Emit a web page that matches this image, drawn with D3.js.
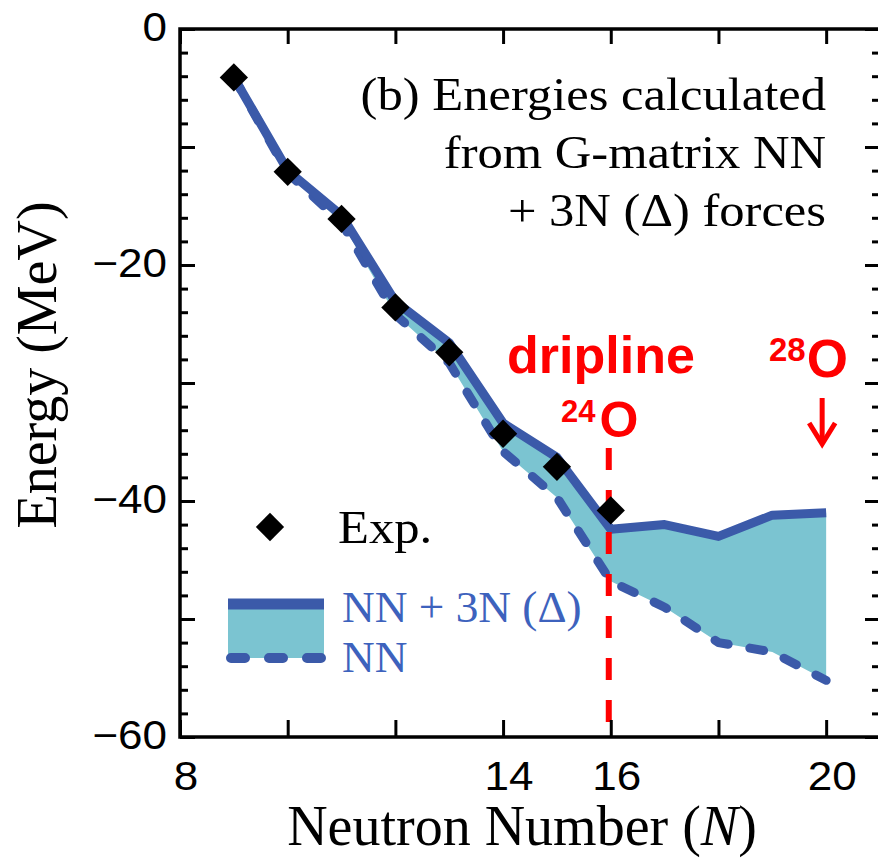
<!DOCTYPE html>
<html>
<head>
<meta charset="utf-8">
<script src="https://cdn.jsdelivr.net/npm/d3@7"></script>
<style>
  html, body { margin: 0; padding: 0; background: #fff; }
  svg { display: block; }
</style>
</head>
<body>
<svg id="chart" width="878" height="858"></svg>
<script>
// ---------------- data ----------------
const expN = [9, 10, 11, 12, 13, 14, 15, 16];
const expE = [-4.1, -12.1, -16.1, -23.6, -27.4, -34.3, -37.1, -40.8];

const calcN = [9, 10, 11, 12, 13, 14, 15, 16, 17, 18, 19, 20];
const nn3nE = [-4.1, -12.0, -15.8, -23.1, -26.6, -33.4, -36.3, -42.4, -42.0, -43.0, -41.2, -41.0];
const nnE   = [-4.1, -12.2, -16.4, -24.2, -28.3, -35.8, -39.7, -46.8, -49.0, -52.0, -52.8, -55.2];

const xTickValues = [8, 10, 12, 14, 16, 18, 20];
const xTickLabels = ["8", "14", "16", "20"];
const yMajorTicks = [0, -10, -20, -30, -40, -50, -60];
const yMinorTicks = d3.range(-58, 0, 2).filter(v => v % 10 !== 0);
const yTickLabels = ["0", "\u221220", "\u221240", "\u221260"];

const annotationLines = ["(b) Energies calculated", "from G-matrix NN", "+ 3N (\u0394) forces"];
const legendLabels = ["Exp.", "NN + 3N (\u0394)", "NN"];
const xTitle = "Neutron Number (";
const xTitleItalic = "N";
const yTitle = "Energy (MeV)";
const driplineN = 16;
const driplineRange = [-35.5, -58.8];
const o28N = 20;

// ---------------- layout ----------------
const svg = d3.select("#chart");
const x = d3.scaleLinear().domain([8, 21]).range([180, 880]);
const y = d3.scaleLinear().domain([-60, 0]).range([737, 29]);

const lineBlue = "#3b5aa9";
const fillTeal = "#7bc4d1";
const textBlue = "#3d62bd";
const red = "#ff0000";
const serif = "'Liberation Serif', 'Times New Roman', serif";
const sans = "'Liberation Sans', Arial, Helvetica, sans-serif";

const calc = calcN.map((n, i) => ({ n, a: nn3nE[i], b: nnE[i] }));
const exp = expN.map((n, i) => ({ n, e: expE[i] }));

// band
svg.append("path")
  .datum(calc)
  .attr("fill", fillTeal)
  .attr("d", d3.area().x(d => x(d.n)).y0(d => y(d.b)).y1(d => y(d.a)));

// dashed NN
svg.append("path")
  .datum(calc)
  .attr("fill", "none")
  .attr("stroke", lineBlue)
  .attr("stroke-width", 9)
  .attr("stroke-dasharray", "14,22")
  .attr("stroke-linecap", "round")
  .attr("stroke-linejoin", "round")
  .attr("d", d3.line().x(d => x(d.n)).y(d => y(d.b)));

// solid NN+3N
svg.append("path")
  .datum(calc)
  .attr("fill", "none")
  .attr("stroke", lineBlue)
  .attr("stroke-width", 9)
  .attr("stroke-linejoin", "round")
  .attr("d", d3.line().x(d => x(d.n)).y(d => y(d.a)));

// dripline red dashed
svg.append("line")
  .attr("x1", x(driplineN) - 2).attr("x2", x(driplineN) - 2)
  .attr("y1", y(driplineRange[0])).attr("y2", y(driplineRange[1]))
  .attr("stroke", red).attr("stroke-width", 6)
  .attr("stroke-dasharray", "22,20");

// experimental diamonds
const diamond = d3.symbol().type(d3.symbolSquare).size(400);
svg.append("g").selectAll("path")
  .data(exp)
  .join("path")
  .attr("d", diamond)
  .attr("transform", d => `translate(${x(d.n)},${y(d.e)}) rotate(45)`)
  .attr("fill", "#000");

// ---------------- frame & ticks ----------------
svg.append("rect")
  .attr("x", x(8)).attr("y", y(0))
  .attr("width", x(21) - x(8)).attr("height", y(-60) - y(0))
  .attr("fill", "none").attr("stroke", "#000").attr("stroke-width", 3.5);

const axB = svg.append("g").attr("transform", `translate(0,${y(-60)})`)
  .call(d3.axisBottom(x).tickValues(xTickValues).tickSize(-17).tickFormat(""));
const axT = svg.append("g").attr("transform", `translate(0,${y(0)})`)
  .call(d3.axisTop(x).tickValues(xTickValues).tickSize(-15).tickFormat(""));
const axL = svg.append("g").attr("transform", `translate(${x(8)},0)`)
  .call(d3.axisLeft(y).tickValues(yMajorTicks).tickSize(-15).tickFormat(""));
const axLm = svg.append("g").attr("transform", `translate(${x(8)},0)`)
  .call(d3.axisLeft(y).tickValues(yMinorTicks).tickSize(-8).tickFormat(""));
const axR = svg.append("g").attr("transform", `translate(${x(21)},0)`)
  .call(d3.axisRight(y).tickValues(yMajorTicks).tickSize(-15).tickFormat(""));
const axRm = svg.append("g").attr("transform", `translate(${x(21)},0)`)
  .call(d3.axisRight(y).tickValues(yMinorTicks).tickSize(-8).tickFormat(""));
[axB, axT, axL, axLm, axR, axRm].forEach(g => {
  g.select(".domain").remove();
  g.selectAll(".tick line").attr("stroke", "#000").attr("stroke-width", 3);
});

// tick labels
xTickLabels.forEach(t => {
  svg.append("text")
    .attr("transform", `translate(${x(+t) + 6},790) scale(1.1,1)`)
    .attr("text-anchor", "middle")
    .attr("font-family", sans).attr("font-size", 40)
    .attr("fill", "#000")
    .text(t);
});
yTickLabels.forEach(t => {
  const v = +t.replace("\u2212", "-");
  svg.append("text")
    .attr("transform", `translate(167,${y(v) + 12}) scale(1.1,1)`)
    .attr("text-anchor", "end")
    .attr("font-family", sans).attr("font-size", 40)
    .attr("fill", "#000")
    .text(t);
});

// axis titles
const xt = svg.append("text")
  .attr("x", 522).attr("y", 845)
  .attr("text-anchor", "middle")
  .attr("font-family", serif).attr("font-size", 56)
  .attr("fill", "#000");
xt.append("tspan").text(xTitle);
xt.append("tspan").attr("font-style", "italic").text(xTitleItalic);
xt.append("tspan").text(")");

svg.append("text")
  .attr("transform", "translate(56,365) rotate(-90)")
  .attr("text-anchor", "middle")
  .attr("font-family", serif).attr("font-size", 56)
  .attr("fill", "#000")
  .text(yTitle);

// annotation
const annY = [110, 168, 226];
annotationLines.forEach((t, i) => {
  svg.append("text")
    .attr("transform", `translate(826,${annY[i]}) scale(1.1,1)`)
    .attr("text-anchor", "end")
    .attr("font-family", serif).attr("font-size", 46)
    .attr("fill", "#000")
    .text(t);
});

// ---------------- legend ----------------
svg.append("path")
  .attr("d", diamond)
  .attr("transform", "translate(270,527) rotate(45)")
  .attr("fill", "#000");
svg.append("text")
  .attr("transform", "translate(338,543) scale(1.1,1)")
  .attr("font-family", serif).attr("font-size", 46)
  .attr("fill", "#000")
  .text(legendLabels[0]);

svg.append("rect")
  .attr("x", 228).attr("y", 604).attr("width", 96).attr("height", 54)
  .attr("fill", fillTeal);
svg.append("line")
  .attr("x1", 228).attr("x2", 324).attr("y1", 604).attr("y2", 604)
  .attr("stroke", lineBlue).attr("stroke-width", 11);
svg.append("line")
  .attr("x1", 231).attr("x2", 324).attr("y1", 658).attr("y2", 658)
  .attr("stroke", lineBlue).attr("stroke-width", 10)
  .attr("stroke-linecap", "round")
  .attr("stroke-dasharray", "14,24");
svg.append("text")
  .attr("transform", "translate(342,622) scale(1.03,1)")
  .attr("font-family", serif).attr("font-size", 44)
  .attr("fill", textBlue)
  .text(legendLabels[1]);
svg.append("text")
  .attr("transform", "translate(342,672) scale(1.03,1)")
  .attr("font-family", serif).attr("font-size", 44)
  .attr("fill", textBlue)
  .text(legendLabels[2]);

// ---------------- red annotations ----------------
svg.append("text")
  .attr("x", 601).attr("y", 373)
  .attr("text-anchor", "middle")
  .attr("font-family", sans).attr("font-weight", "bold").attr("font-size", 52)
  .attr("fill", red)
  .text("dripline");

const o24 = svg.append("text")
  .attr("x", 561).attr("y", 437)
  .attr("font-family", sans).attr("font-weight", "bold")
  .attr("fill", red);
o24.append("tspan").attr("font-size", 31).attr("dy", -15).text("24");
o24.append("tspan").attr("font-size", 50).attr("dy", 15).attr("dx", 4).text("O");

const o28 = svg.append("text")
  .attr("x", 769).attr("y", 377)
  .attr("font-family", sans).attr("font-weight", "bold")
  .attr("fill", red);
o28.append("tspan").attr("font-size", 33).attr("dy", -16).text("28");
o28.append("tspan").attr("font-size", 53).attr("dy", 16).attr("dx", 1).text("O");

// arrow
const ax = x(o28N) - 4;
svg.append("line")
  .attr("x1", ax).attr("x2", ax).attr("y1", 398).attr("y2", 442)
  .attr("stroke", red).attr("stroke-width", 5);
svg.append("path")
  .attr("d", `M${ax - 13},${423} L${ax},${444} L${ax + 13},${423}`)
  .attr("fill", "none").attr("stroke", red).attr("stroke-width", 5)
  .attr("stroke-linejoin", "miter");
</script>
</body>
</html>
